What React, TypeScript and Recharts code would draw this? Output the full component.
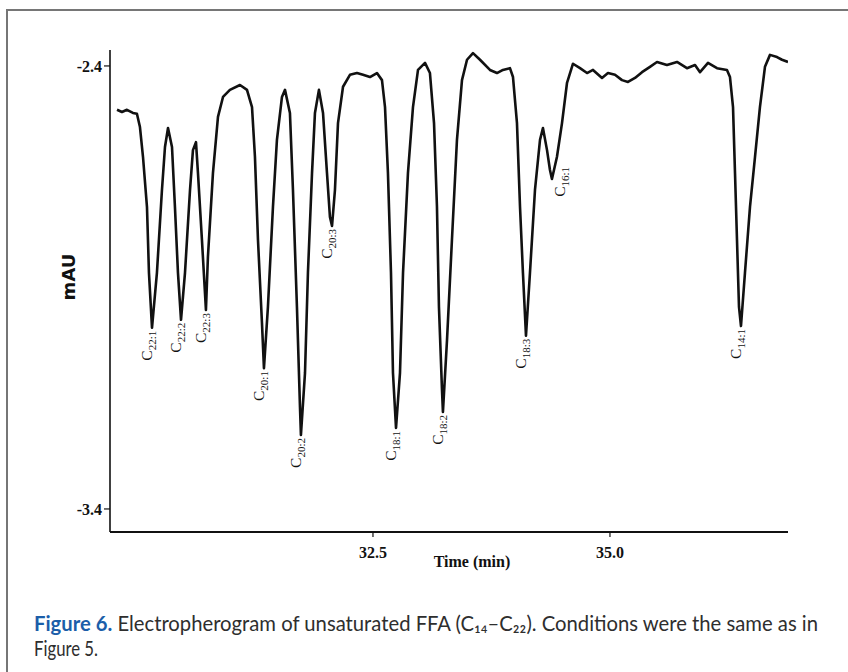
import { LineChart, Line, XAxis, YAxis, ReferenceDot } from "recharts";

// trace: time (min) and signal (mAU)
const times = [
  29.8, 29.852, 29.905, 29.968, 30.01, 30.042, 30.074, 30.116, 30.137, 30.169,
  30.221, 30.274, 30.306, 30.338, 30.38, 30.411, 30.443, 30.475, 30.517, 30.57,
  30.601, 30.633, 30.654, 30.696, 30.738, 30.759, 30.812, 30.865, 30.918, 30.991,
  31.097, 31.171, 31.224, 31.255, 31.287, 31.329, 31.35, 31.392, 31.445, 31.487,
  31.54, 31.572, 31.624, 31.656, 31.698, 31.73, 31.74, 31.783, 31.814, 31.857,
  31.888, 31.93, 31.973, 32.015, 32.046, 32.068, 32.099, 32.131, 32.184, 32.257,
  32.331, 32.395, 32.468, 32.542, 32.595, 32.627, 32.658, 32.69, 32.711, 32.743,
  32.785, 32.817, 32.869, 32.922, 32.975, 33.049, 33.101, 33.144, 33.175, 33.196,
  33.228, 33.238, 33.281, 33.333, 33.386, 33.439, 33.492, 33.555, 33.629, 33.734,
  33.808, 33.871, 33.945, 33.977, 34.019, 34.051, 34.082, 34.114, 34.156, 34.209,
  34.262, 34.293, 34.336, 34.367, 34.388, 34.441, 34.494, 34.547, 34.61, 34.684,
  34.758, 34.821, 34.916, 34.979, 35.053, 35.127, 35.19, 35.264, 35.338, 35.422,
  35.496, 35.601, 35.707, 35.812, 35.897, 35.95, 36.034, 36.129, 36.234, 36.266,
  36.298, 36.319, 36.34, 36.361, 36.382, 36.424, 36.477, 36.53, 36.582, 36.635,
  36.688, 36.762, 36.815, 36.878,
];

const mau = [
  -2.499, -2.504, -2.499, -2.506, -2.508, -2.538, -2.605, -2.718, -2.867, -2.991,
  -2.867, -2.68, -2.583, -2.54, -2.583, -2.718, -2.867, -2.973, -2.867, -2.68,
  -2.59, -2.572, -2.642, -2.793, -2.951, -2.831, -2.642, -2.515, -2.47, -2.454,
  -2.443, -2.454, -2.493, -2.605, -2.793, -2.98, -3.082, -2.944, -2.718, -2.567,
  -2.47, -2.454, -2.506, -2.68, -2.944, -3.17, -3.233, -3.093, -2.867, -2.642,
  -2.506, -2.454, -2.506, -2.642, -2.741, -2.761, -2.68, -2.529, -2.447, -2.42,
  -2.416, -2.42, -2.425, -2.416, -2.432, -2.493, -2.642, -2.867, -3.093, -3.217,
  -3.093, -2.867, -2.642, -2.493, -2.409, -2.393, -2.416, -2.529, -2.718, -2.944,
  -3.131, -3.181, -3.019, -2.793, -2.567, -2.432, -2.386, -2.371, -2.386, -2.409,
  -2.416, -2.409, -2.405, -2.425, -2.529, -2.718, -2.867, -3.009, -2.867, -2.68,
  -2.567, -2.54, -2.59, -2.635, -2.655, -2.605, -2.529, -2.438, -2.395, -2.405,
  -2.416, -2.409, -2.427, -2.416, -2.42, -2.432, -2.436, -2.427, -2.414, -2.402,
  -2.391, -2.398, -2.391, -2.405, -2.398, -2.414, -2.393, -2.405, -2.409, -2.425,
  -2.493, -2.642, -2.793, -2.944, -2.987, -2.867, -2.718, -2.605, -2.493, -2.402,
  -2.375, -2.38, -2.386, -2.391,
];

const peakNames = ["22:1", "22:2", "22:3", "20:1", "20:2", "20:3", "18:1", "18:2", "18:3", "16:1", "14:1"];
const peakTimes = [30.169, 30.475, 30.738, 31.35, 31.74, 32.068, 32.743, 33.238, 34.114, 34.388, 36.382];
const peakValues = [-2.991, -2.973, -2.951, -3.082, -3.233, -2.761, -3.217, -3.181, -3.009, -2.655, -2.987];

const xTicks = [32.5, 35.0];
const yTicks = [-2.4, -3.4];

const data = times.map((t, i) => ({ t, v: mau[i] }));

const serif = "'Liberation Serif', 'Times New Roman', serif";
const captionFont = "'Liberation Sans Narrow', Lato, sans-serif";

function PeakLabel({ cx, cy, name }: { cx: number; cy: number; name: string }) {
  // the small C16:1 dip has its label off to the right
  const shifted = name === "16:1";
  const x = cx + (shifted ? 13 : 0);
  const y = cy + (shifted ? -12 : 3);
  return (
    <text
      x={x}
      y={y}
      transform={`rotate(-90 ${x} ${y})`}
      textAnchor="end"
      fontFamily={serif}
      fontSize={15.5}
      fill="#111"
    >
      <tspan>C</tspan>
      <tspan fontSize={11} dy={4}>
        {name}
      </tspan>
    </text>
  );
}

export default function App() {
  return (
    <div
      style={{
        position: "absolute",
        left: 0,
        top: 0,
        width: 848,
        height: 672,
        background: "#fff",
        overflow: "hidden",
      }}
    >
      <div
        style={{
          position: "absolute",
          left: 6,
          top: 9,
          width: 860,
          height: 700,
          borderTop: "2px solid #767676",
          borderLeft: "2px solid #767676",
        }}
      />
      <div style={{ position: "absolute", left: 0, top: 0 }}>
        <LineChart
          width={848}
          height={600}
          data={data}
          margin={{ top: 50, right: 60, bottom: 38, left: 50 }}
        >
          <XAxis
            type="number"
            dataKey="t"
            domain={[29.726, 36.878]}
            allowDataOverflow
            ticks={xTicks}
            tickFormatter={(v: number) => v.toFixed(1)}
            height={30}
            tickSize={5}
            tickMargin={10}
            axisLine={{ stroke: "#111", strokeWidth: 2 }}
            tickLine={{ stroke: "#111", strokeWidth: 1.2 }}
            tick={{ fill: "#111", fontFamily: serif, fontWeight: "bold", fontSize: 16 }}
          />
          <YAxis
            type="number"
            domain={[-3.452, -2.364]}
            allowDataOverflow
            ticks={yTicks}
            tickFormatter={(v: number) => v.toFixed(1)}
            width={60}
            tickSize={6}
            tickMargin={2}
            axisLine={{ stroke: "#111", strokeWidth: 1.6 }}
            tickLine={{ stroke: "#111", strokeWidth: 1.2 }}
            tick={{ fill: "#111", fontFamily: serif, fontWeight: "bold", fontSize: 16 }}
          />
          <Line
            type="linear"
            dataKey="v"
            stroke="#111"
            strokeWidth={2.6}
            strokeLinejoin="round"
            dot={false}
            isAnimationActive={false}
          />
          {peakNames.map((name, i) => (
            <ReferenceDot
              key={name}
              x={peakTimes[i]}
              y={peakValues[i]}
              r={1}
              shape={(p: any) => <PeakLabel cx={p.cx} cy={p.cy} name={name} />}
            />
          ))}
        </LineChart>
      </div>
      <div
        style={{
          position: "absolute",
          left: 472,
          top: 562,
          transform: "translate(-50%, -50%)",
          whiteSpace: "nowrap",
          fontFamily: serif,
          fontWeight: "bold",
          fontSize: 16,
          color: "#111",
        }}
      >
        Time (min)
      </div>
      <div
        style={{
          position: "absolute",
          left: 68,
          top: 277,
          transform: "translate(-50%, -50%) rotate(-90deg)",
          whiteSpace: "nowrap",
          fontFamily: "'DejaVu Sans', sans-serif",
          fontWeight: "bold",
          fontSize: 18,
          color: "#111",
        }}
      >
        mAU
      </div>
      <svg width={848} height={72} style={{ position: "absolute", left: 0, top: 600 }}>
        <text
          x={34}
          y={31}
          textLength={784}
          lengthAdjust="spacingAndGlyphs"
          fontFamily={captionFont}
          fontSize={21}
          fill="#2e2e2e"
        >
          <tspan fontWeight="bold" fill="#1b5ea9">
            Figure 6.
          </tspan>
          {" Electropherogram of unsaturated FFA (C₁₄–C₂₂). Conditions were the same as in"}
        </text>
        <text
          x={34}
          y={56}
          textLength={64}
          lengthAdjust="spacingAndGlyphs"
          fontFamily={captionFont}
          fontSize={21}
          fill="#2e2e2e"
        >
          Figure 5.
        </text>
      </svg>
    </div>
  );
}
